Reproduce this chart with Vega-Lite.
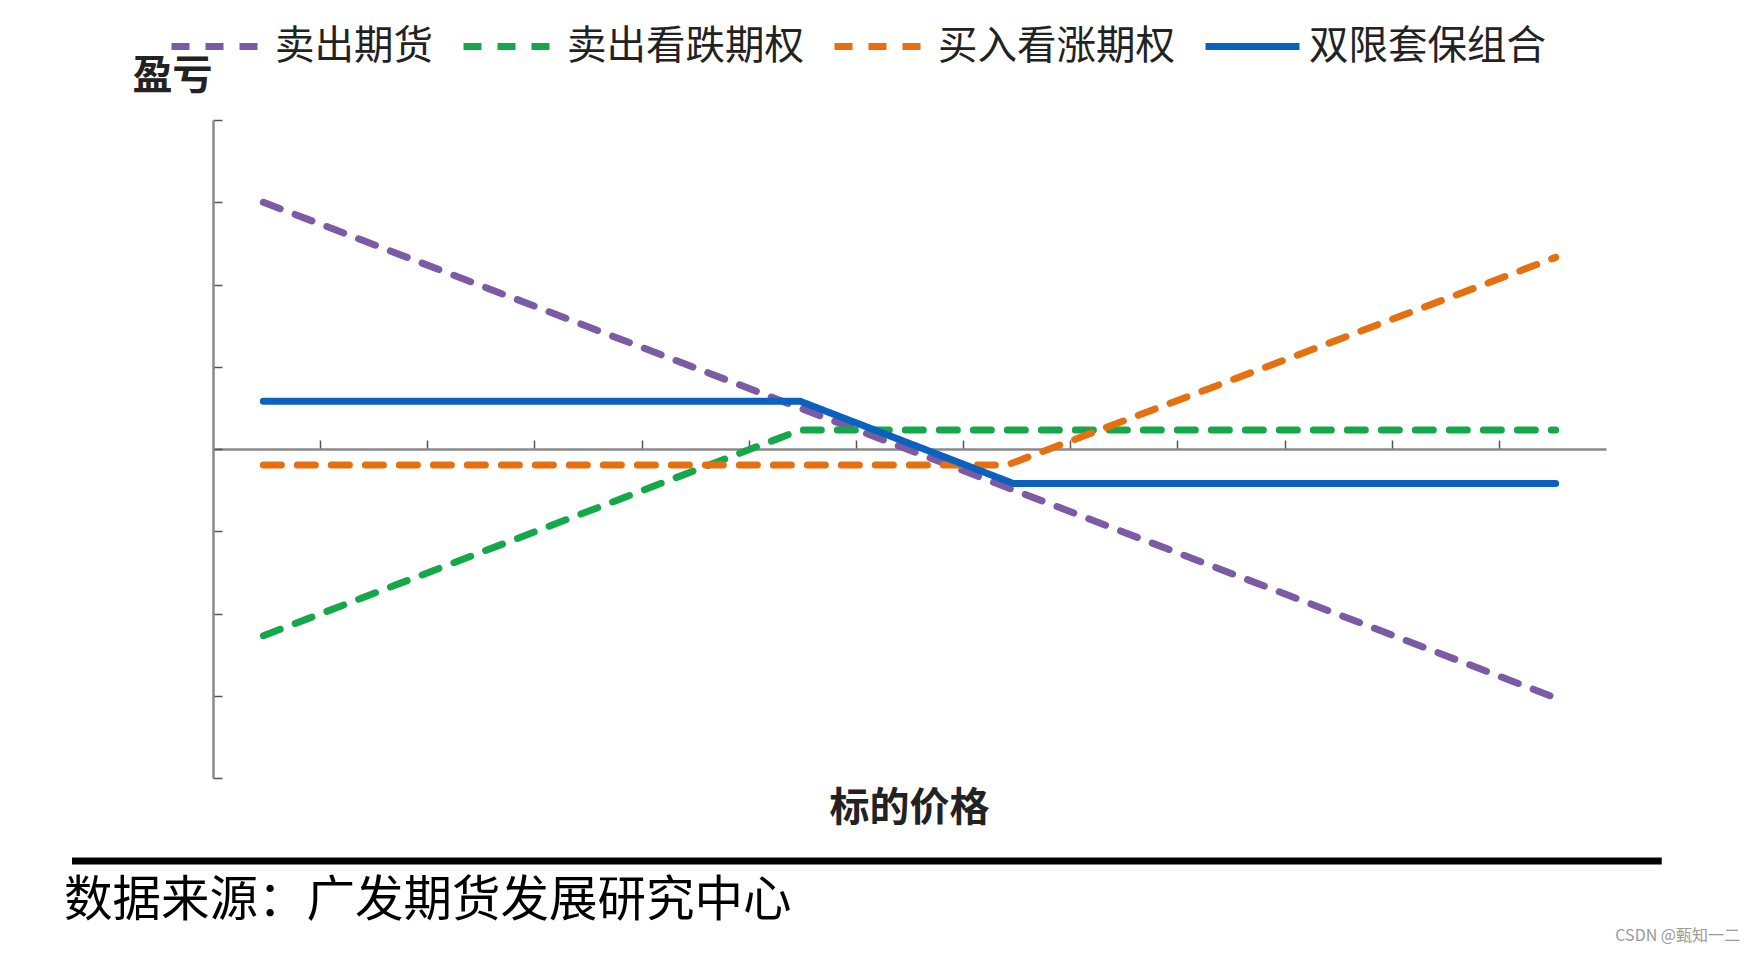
{
  "$schema": "https://vega.github.io/schema/vega-lite/v6.json",
  "width": 1393,
  "height": 658,
  "autosize": {"type": "none"},
  "padding": {"left": 213, "top": 120, "right": 149, "bottom": 177},
  "background": "white",
  "config": {
    "view": {"stroke": null},
    "font": "Noto Sans CJK SC"
  },
  "layer": [
    {
      "data": {
        "values": [
          {"series": "卖出期货", "price": 4.7, "pnl": 30.0},
          {"series": "卖出期货", "price": 124.8, "pnl": -30.0},
          {"series": "卖出看跌期权", "price": 4.7, "pnl": -22.7},
          {"series": "卖出看跌期权", "price": 54.8, "pnl": 2.3},
          {"series": "卖出看跌期权", "price": 125.3, "pnl": 2.3},
          {"series": "买入看涨期权", "price": 4.7, "pnl": -1.95},
          {"series": "买入看涨期权", "price": 74.1, "pnl": -1.95},
          {"series": "买入看涨期权", "price": 125.3, "pnl": 23.3},
          {"series": "双限套保组合", "price": 4.7, "pnl": 5.8},
          {"series": "双限套保组合", "price": 54.8, "pnl": 5.8},
          {"series": "双限套保组合", "price": 74.7, "pnl": -4.2},
          {"series": "双限套保组合", "price": 125.3, "pnl": -4.2}
        ]
      },
      "mark": {"type": "line", "strokeWidth": 7, "strokeCap": "round", "strokeJoin": "round"},
      "encoding": {
        "x": {
          "field": "price",
          "type": "quantitative",
          "scale": {"domain": [0, 130], "nice": false, "zero": false},
          "axis": {
            "title": "标的价格",
            "titleFontSize": 40,
            "titleFontWeight": "bold",
            "titleColor": "#222222",
            "titleX": 696,
            "titleY": 359,
            "titleAlign": "center",
            "titleBaseline": "middle",
            "offset": -329,
            "values": [10, 20, 30, 40, 50, 60, 70, 80, 90, 100, 110, 120],
            "labels": false,
            "grid": false,
            "tickSize": -9,
            "tickColor": "#555555",
            "tickWidth": 1.5,
            "domainColor": "#8a8a8a",
            "domainWidth": 2.5
          }
        },
        "y": {
          "field": "pnl",
          "type": "quantitative",
          "scale": {"domain": [-40, 40], "nice": false},
          "axis": {
            "title": "盈亏",
            "titleAngle": 0,
            "titleFontSize": 40,
            "titleFontWeight": "bold",
            "titleColor": "#222222",
            "titleX": -81,
            "titleY": -44,
            "titleAlign": "left",
            "titleBaseline": "middle",
            "values": [-40, -30, -20, -10, 0, 10, 20, 30, 40],
            "labels": false,
            "grid": false,
            "tickSize": -9,
            "tickColor": "#555555",
            "tickWidth": 1.5,
            "domainColor": "#8a8a8a",
            "domainWidth": 2.5
          }
        },
        "color": {
          "field": "series",
          "type": "nominal",
          "scale": {
            "domain": ["卖出期货", "卖出看跌期权", "买入看涨期权", "双限套保组合"],
            "range": ["#7B5AA6", "#14A84A", "#E6700F", "#0A61C0"]
          },
          "legend": {
            "title": null,
            "orient": "none",
            "direction": "horizontal",
            "columns": 4,
            "legendX": -45,
            "legendY": -124,
            "padding": 0,
            "symbolType": "stroke",
            "symbolSize": 8836,
            "symbolStrokeWidth": 7,
            "labelFontSize": 39.5,
            "labelFont": "Noto Sans CJK SC",
            "labelColor": "#222222",
            "labelOffset": 6,
            "labelLimit": 400,
            "columnPadding": 16
          }
        },
        "strokeDash": {
          "field": "series",
          "type": "nominal",
          "scale": {
            "domain": ["卖出期货", "卖出看跌期权", "买入看涨期权", "双限套保组合"],
            "range": [[18, 16], [18, 16], [18, 16], [1, 0]]
          },
          "legend": {
            "title": null,
            "orient": "none",
            "direction": "horizontal",
            "columns": 4,
            "legendX": -45,
            "legendY": -124,
            "padding": 0,
            "symbolType": "stroke",
            "symbolSize": 8836,
            "symbolStrokeWidth": 7,
            "labelFontSize": 39.5,
            "labelFont": "Noto Sans CJK SC",
            "labelColor": "#222222",
            "labelOffset": 6,
            "labelLimit": 400,
            "columnPadding": 16
          }
        }
      }
    },
    {
      "data": {"values": [{"part": "source rule"}]},
      "mark": {"type": "rule", "color": "#000000", "strokeWidth": 7},
      "encoding": {
        "x": {"datum": -13.16},
        "x2": {"datum": 135.2},
        "y": {"datum": -50.1}
      }
    },
    {
      "data": {"values": [{"note": "数据来源：广发期货发展研究中心"}]},
      "mark": {"type": "text", "align": "left", "baseline": "middle", "fontSize": 48.5, "font": "Noto Sans CJK SC", "color": "#000000"},
      "encoding": {
        "x": {"datum": -13.9},
        "y": {"datum": -54.95},
        "text": {"field": "note"}
      }
    },
    {
      "data": {"values": [{"note": "CSDN @甄知一二"}]},
      "mark": {"type": "text", "align": "right", "baseline": "middle", "fontSize": 16, "font": "Noto Sans CJK SC", "color": "#999999"},
      "encoding": {
        "x": {"datum": 142.5},
        "y": {"datum": -59.2},
        "text": {"field": "note"}
      }
    }
  ]
}
